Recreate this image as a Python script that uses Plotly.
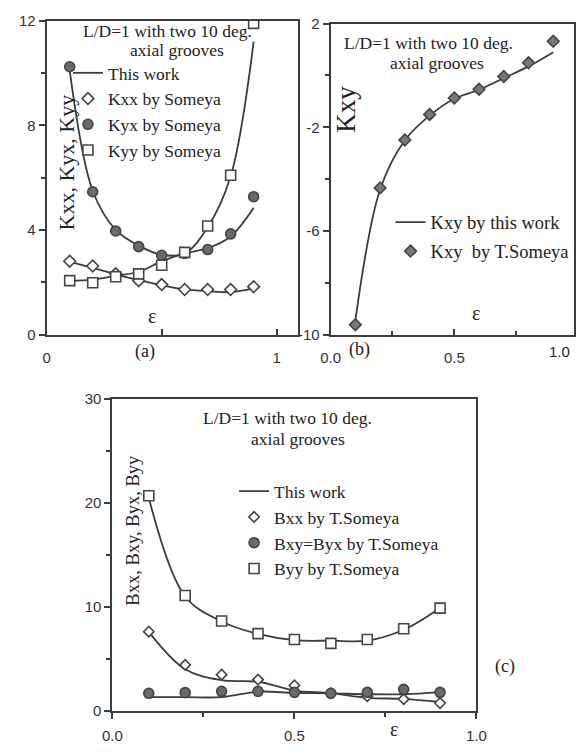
import plotly.graph_objects as go

W, H = 585, 756

# ---------------- data ----------------
ecc = [0.1, 0.2, 0.3, 0.4, 0.5, 0.6, 0.7, 0.8, 0.9]

# panel (a) - stiffness, Someya points
kxx_someya = [2.80, 2.62, 2.32, 2.06, 1.91, 1.72, 1.72, 1.72, 1.83]
kyx_someya = [10.24, 5.46, 3.96, 3.36, 3.03, 3.10, 3.25, 3.85, 5.27]
kyy_someya = [2.06, 1.98, 2.21, 2.32, 2.65, 3.14, 4.15, 6.09, 11.9]
# panel (a) - this work curves
ka_upper = [10.1, 5.5, 4.0, 3.4, 3.05, 3.1, 4.1, 6.05, 11.2]
ka_lower = [2.05, 2.1, 2.25, 2.4, 2.8, 3.1, 3.3, 3.75, 4.85]
ka_kxx = [2.78, 2.55, 2.3, 2.08, 1.88, 1.73, 1.66, 1.62, 1.76]

# panel (b) - Kxy
kxy_someya = [-9.62, -4.34, -2.49, -1.51, -0.87, -0.53, -0.04, 0.49, 1.32]
kxy_work = [-9.45, -4.4, -2.5, -1.55, -0.9, -0.55, -0.1, 0.35, 0.9]

# panel (c) - damping
bxx_someya = [7.62, 4.42, 3.48, 3.01, 2.45, 1.69, 1.41, 1.13, 0.75]
bxy_someya = [1.69, 1.75, 1.88, 1.88, 1.78, 1.69, 1.78, 2.07, 1.78]
byy_someya = [20.7, 11.1, 8.65, 7.43, 6.87, 6.49, 6.87, 7.90, 9.88]
bxx_work = [7.6, 4.0, 2.95, 2.8, 1.95, 1.7, 1.25, 1.15, 0.85]
bxy_work = [1.32, 1.32, 1.32, 1.85, 1.72, 1.69, 1.6, 1.6, 1.8]
byy_work = [20.5, 11.0, 8.6, 7.4, 6.8, 6.75, 6.75, 7.8, 9.9]

# tick labels
a_xticks, a_xlabels = [0, 0.5, 1], ["0", "", "1"]
a_yticks, a_ylabels = [0, 4, 8, 12], ["0", "4", "8", "12"]
b_xticks, b_xlabels = [0, 0.5], ["0.0", "0.5"]
b_yticks, b_ylabels = [-10, -6, -2, 2], ["-10", "-6", "-2", "2"]
c_xticks, c_xlabels = [0, 0.5, 1], ["0.0", "0.5", "1.0"]
c_yticks, c_ylabels = [0, 10, 20, 30], ["0", "10", "20", "30"]

LINE = "#3c3c3c"
SERIF = "Liberation Serif"
SANS = "Liberation Sans"

fig = go.Figure()


def work_line(x, y, xa, ya, name=None, legend=None, show=False):
    fig.add_trace(go.Scatter(
        x=x, y=y, xaxis=xa, yaxis=ya, mode="lines", line_shape="spline",
        line=dict(color=LINE, width=1.8), name=name or "This work",
        showlegend=show, legend=legend, legendgroup=(legend or "") + "work"))


def pts(x, y, xa, ya, name, symbol, legend, fill="white", size=9):
    fig.add_trace(go.Scatter(
        x=x, y=y, xaxis=xa, yaxis=ya, mode="markers", name=name,
        marker=dict(symbol=symbol, size=size, color=fill,
                    line=dict(color="#444", width=1.6)),
        showlegend=True, legend=legend, legendgroup=name))


# (a)
work_line(ecc, ka_upper, "x", "y", "This work", "legend", True)
work_line(ecc, ka_lower, "x", "y", legend="legend")
work_line(ecc, ka_kxx, "x", "y", legend="legend")
pts(ecc, kxx_someya, "x", "y", "Kxx by Someya", "diamond", "legend", size=9)
pts(ecc, kyx_someya, "x", "y", "Kyx by Someya", "circle", "legend", fill="#6a6a6a", size=10)
pts(ecc, kyy_someya, "x", "y", "Kyy by Someya", "square", "legend", size=10)

# (b)
work_line(ecc, kxy_work, "x2", "y2", "Kxy by this work", "legend2", True)
pts(ecc, kxy_someya, "x2", "y2", "Kxy  by T.Someya", "diamond", "legend2", fill="#777", size=9)

# (c)
work_line(ecc, byy_work, "x3", "y3", "This work", "legend3", True)
work_line(ecc, bxx_work, "x3", "y3", legend="legend3")
work_line(ecc, bxy_work, "x3", "y3", legend="legend3")
pts(ecc, bxx_someya, "x3", "y3", "Bxx by T.Someya", "diamond", "legend3", size=8)
pts(ecc, bxy_someya, "x3", "y3", "Bxy=Byx by T.Someya", "circle", "legend3", fill="#6a6a6a", size=10)
pts(ecc, byy_someya, "x3", "y3", "Byy by T.Someya", "square", "legend3", size=10)


def px(x):
    return min(max(x / W, 0), 1)


def py(y):
    return min(max(1 - y / H, 0), 1)


def axis(ticks, **kw):
    d = dict(showline=True, linecolor=LINE, linewidth=2, mirror=True,
             showgrid=False, zeroline=False, ticks=ticks, ticklen=6,
             tickwidth=1.5, tickcolor=LINE,
             tickfont=dict(family=SANS, size=15, color="#333"))
    d.update(kw)
    return d


def minor(vals, ticks):
    return dict(ticks=ticks, ticklen=4, tickwidth=1.5, tickcolor=LINE, tickvals=vals)


fig.update_layout(
    width=W, height=H, margin=dict(l=0, r=0, t=0, b=0),
    paper_bgcolor="white", plot_bgcolor="white",
    xaxis=axis("inside", domain=[px(38), px(298)], range=[0, 1.092], anchor="y",
               tickvals=a_xticks, ticktext=a_xlabels, ticklabelstandoff=8),
    yaxis=axis("outside", domain=[py(333), py(12)], range=[0, 12], anchor="x",
               tickvals=a_yticks, ticktext=a_ylabels, minor=minor([2, 6, 10], "outside")),
    xaxis2=axis("inside", domain=[px(332), px(584)], range=[0, 0.984], anchor="y2",
                tickvals=b_xticks, ticktext=b_xlabels, ticklabelstandoff=8,
                minor=minor([0.25, 0.75], "inside")),
    yaxis2=axis("outside", domain=[py(333), py(15)], range=[-10, 2], anchor="x2",
                tickvals=b_yticks, ticktext=b_ylabels, minor=minor([-8, -4, 0], "outside")),
    xaxis3=axis("outside", domain=[px(106), px(483)], range=[0, 1], anchor="y3",
                tickvals=c_xticks, ticktext=c_xlabels, ticklabelstandoff=4,
                minor=minor([0.25, 0.75], "outside")),
    yaxis3=axis("outside", domain=[py(718), py(399)], range=[0, 30], anchor="x3",
                tickvals=c_yticks, ticktext=c_ylabels, minor=minor([5, 15, 25], "outside")),
)

leg_common = dict(bgcolor="rgba(0,0,0,0)", borderwidth=0,
                  xanchor="left", yanchor="top", traceorder="grouped", tracegroupgap=0,
                  itemwidth=30)
fig.update_layout(
    legend=dict(leg_common, x=px(60), y=py(47),
                font=dict(family=SERIF, size=17.5, color="#222")),
    legend2=dict(leg_common, x=px(394), y=py(199), tracegroupgap=2,
                 font=dict(family=SERIF, size=18.5, color="#222")),
    legend3=dict(leg_common, x=px(232), y=py(475),
                 font=dict(family=SERIF, size=17.5, color="#222")),
)

ann = []


def text(x, y, s, size=17.5, angle=0, family=SERIF, xanchor="center"):
    ann.append(dict(x=px(x), y=py(y), xref="paper", yref="paper", text=s, showarrow=False,
                    font=dict(family=family, size=size, color="#222"), textangle=angle,
                    xanchor=xanchor, yanchor="middle"))


# (a)
text(163, 22, "L/D=1 with two 10 deg.")
text(173, 42, "axial grooves")
text(58, 157, "Kxx, Kyx, Kyy", size=22, angle=-90)
text(147, 314, "ε", size=20)
text(140, 350, "(a)", size=18)
# (b)
text(433, 35, "L/D=1 with two 10 deg.")
text(442, 55, "axial grooves")
text(348, 103, "Kxy", size=27, angle=-90)
text(483, 311, "ε", size=20)
text(362, 348, "(b)", size=18)
text(569, 350, "1.0", size=15, family=SANS)
# (c)
text(287, 418, "L/D=1 with two 10 deg.")
text(298, 440, "axial grooves")
text(127, 533, "Bxx, Bxy, Byx, Byy", size=18.5, angle=-90)
text(398, 737, "ε", size=20)
text(513, 673, "(c)", size=18)

fig.update_layout(annotations=ann)

fig.write_html("out.html", config={"displayModeBar": False},
               post_script="document.body.style.margin='0';document.body.style.overflow='hidden';")
